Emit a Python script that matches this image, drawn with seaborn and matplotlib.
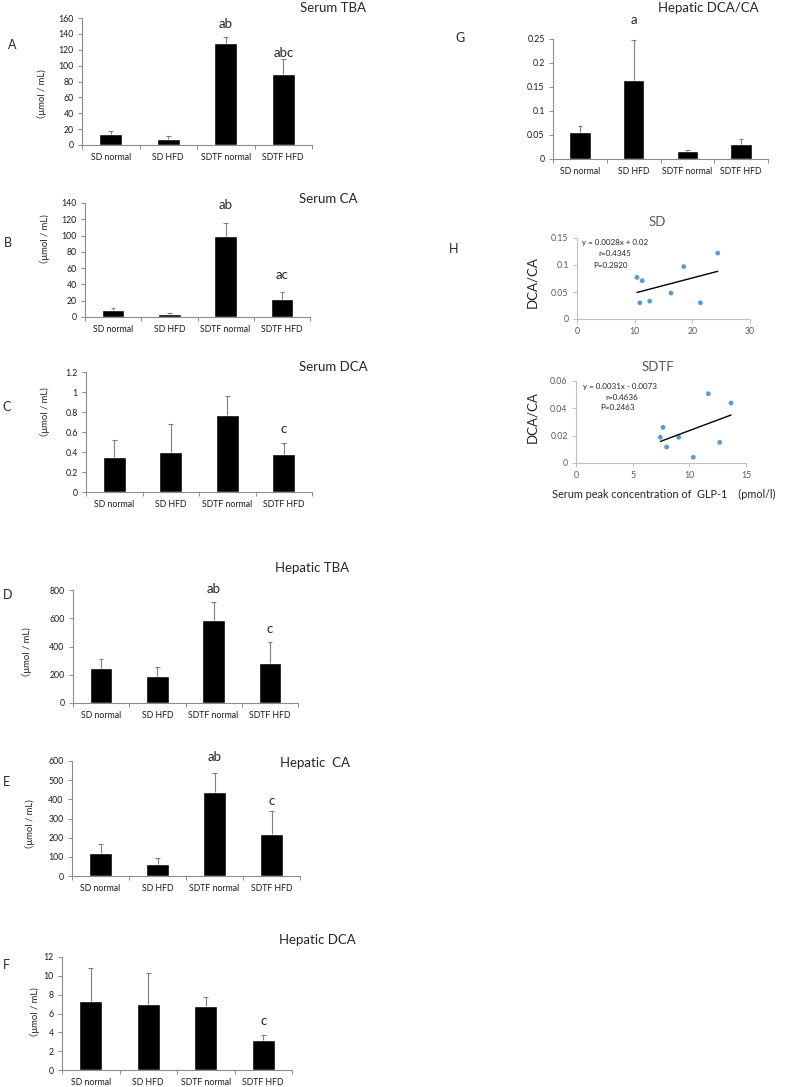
import matplotlib
matplotlib.use("Agg")
import numpy as np
import matplotlib.pyplot as plt
import seaborn as sns
from matplotlib.ticker import FixedLocator, FixedFormatter, NullFormatter, FuncFormatter

sns.set_style("white")
plt.rcParams["font.family"] = ["Lato", "Noto Sans CJK JP", "DejaVu Sans"]

groups = ["SD normal", "SD HFD", "SDTF normal", "SDTF HFD"]

# bar panels: mean and upper error (SEM)
serum_tba = [14, 7.5, 129, 90]
serum_tba_err = [4, 3.5, 7, 18]
serum_ca = [8, 3.5, 100, 22]
serum_ca_err = [3, 1.5, 16, 9]
serum_dca = [0.35, 0.40, 0.77, 0.38]
serum_dca_err = [0.17, 0.28, 0.19, 0.11]
hep_tba = [250, 190, 590, 285]
hep_tba_err = [65, 68, 122, 150]
hep_ca = [122, 65, 440, 217]
hep_ca_err = [43, 27, 98, 121]
hep_dca = [7.3, 7.05, 6.75, 3.15]
hep_dca_err = [3.5, 3.3, 0.95, 0.6]
hep_ratio = [0.057, 0.164, 0.016, 0.031]
hep_ratio_err = [0.011, 0.084, 0.002, 0.010]

# scatter panels (GLP-1 peak vs DCA/CA)
sd_glp1 = [10.4, 11.3, 10.9, 12.6, 16.3, 18.5, 21.4, 24.4]
sd_ratio = [0.077, 0.071, 0.030, 0.033, 0.048, 0.097, 0.030, 0.122]
sd_slope, sd_icpt = 0.0028, 0.02
sdtf_glp1 = [7.44, 7.68, 8.0, 9.06, 10.35, 11.68, 12.68, 13.68]
sdtf_ratio = [0.0188, 0.0261, 0.0117, 0.0188, 0.0042, 0.0507, 0.0151, 0.0439]
sdtf_slope, sdtf_icpt = 0.0031, -0.0073

W, H = 785, 1087
fig = plt.figure(figsize=(W / 100, H / 100), dpi=100)
fig.patch.set_facecolor("white")

SPINE = "#8c8c8c"
YLAB = "（μmol / mL)"
TITLE_FS = 9.5


def box(x0, x1, ybot, ytop):
    return fig.add_axes([x0 / W, 1 - ybot / H, (x1 - x0) / W, (ybot - ytop) / H])


def ftext(x, y, s, **kw):
    kw.setdefault("ha", "center")
    kw.setdefault("va", "center")
    fig.text(x / W, 1 - y / H, s, **kw)


def gfmt(v, _):
    return f"{v:g}"


def bar_panel(ax, vals, errs, ymax, step):
    sns.barplot(x=groups, y=vals, color="black", width=0.4, saturation=1,
                errorbar=None, ax=ax)
    xs = np.arange(len(vals))
    tops = np.array(vals) + np.array(errs)
    # plus-only error bars with a cap at the top
    ax.vlines(xs, vals, tops, color="#7f7f7f", lw=0.8)
    ax.hlines(tops, xs - 0.04, xs + 0.04, color="#7f7f7f", lw=0.8)
    ax.set_xlim(-0.5, 3.5)
    ax.set_ylim(0, ymax)
    ax.yaxis.set_major_locator(FixedLocator(np.arange(0, ymax + step / 2, step)))
    ax.yaxis.set_major_formatter(FuncFormatter(gfmt))
    ax.xaxis.set_major_locator(FixedLocator([-0.5, 0.5, 1.5, 2.5, 3.5]))
    ax.xaxis.set_major_formatter(NullFormatter())
    ax.xaxis.set_minor_locator(FixedLocator([0, 1, 2, 3]))
    ax.xaxis.set_minor_formatter(FixedFormatter(groups))
    ax.tick_params(axis="x", which="major", bottom=True, length=3, width=0.7,
                   color=SPINE, direction="out")
    ax.tick_params(axis="x", which="minor", bottom=True, length=0,
                   labelsize=6.3, pad=6, labelcolor="#1a1a1a")
    ax.tick_params(axis="y", left=True, length=3, width=0.7, color=SPINE,
                   labelsize=6.3, pad=3, labelcolor="#1a1a1a")
    for s in ["top", "right"]:
        ax.spines[s].set_visible(False)
    for s in ["left", "bottom"]:
        ax.spines[s].set_color(SPINE)
        ax.spines[s].set_linewidth(0.8)
    ax.set_xlabel("")
    ax.set_ylabel("")
    ax.patch.set_alpha(0)


def note(ax, x, y, s):
    ax.text(x, y, s, ha="center", va="center", fontsize=9.5, clip_on=False)


# A
ax = box(82, 312, 145, 18)
bar_panel(ax, serum_tba, serum_tba_err, 160, 20)
note(ax, 2, 152, "ab")
note(ax, 3, 116, "abc")
ftext(333, 8, "Serum TBA", fontsize=TITLE_FS)
ftext(12, 45, "A", fontsize=9)
ftext(42, 97, YLAB, fontsize=6.8, rotation=90)

# B
ax = box(85, 310, 317, 203)
bar_panel(ax, serum_ca, serum_ca_err, 140, 20)
note(ax, 2, 137, "ab")
note(ax, 3, 52, "ac")
ftext(328, 199, "Serum CA", fontsize=TITLE_FS)
ftext(8, 243, "B", fontsize=9)
ftext(45, 242, YLAB, fontsize=6.8, rotation=90)

# C
ax = box(86, 312, 492, 372)
bar_panel(ax, serum_dca, serum_dca_err, 1.2, 0.2)
note(ax, 3, 0.63, "c")
ftext(333, 367, "Serum DCA", fontsize=TITLE_FS)
ftext(7, 407, "C", fontsize=9)
ftext(45, 415, YLAB, fontsize=6.8, rotation=90)

# D
ax = box(73, 298, 703, 590)
bar_panel(ax, hep_tba, hep_tba_err, 800, 200)
note(ax, 2, 807, "ab")
note(ax, 3, 524, "c")
ftext(312, 568, "Hepatic TBA", fontsize=TITLE_FS)
ftext(8, 595, "D", fontsize=9)
ftext(27, 655, YLAB, fontsize=6.8, rotation=90)

# E
ax = box(72, 300, 876, 761)
bar_panel(ax, hep_ca, hep_ca_err, 600, 100)
note(ax, 2, 621, "ab")
note(ax, 3, 390, "c")
ftext(315, 763, "Hepatic  CA", fontsize=TITLE_FS)
ftext(6, 782, "E", fontsize=9)
ftext(30, 827, YLAB, fontsize=6.8, rotation=90)

# F
ax = box(62, 292, 1070, 957)
bar_panel(ax, hep_dca, hep_dca_err, 12, 2)
note(ax, 3, 5.2, "c")
ftext(317, 940, "Hepatic DCA", fontsize=TITLE_FS)
ftext(6, 965, "F", fontsize=9)
ftext(35, 1015, YLAB, fontsize=6.8, rotation=90)

# G
ax = box(553, 768, 159, 39)
bar_panel(ax, hep_ratio, hep_ratio_err, 0.25, 0.05)
note(ax, 1, 0.29, "a")
ftext(708, 8, "Hepatic DCA/CA", fontsize=TITLE_FS)
ftext(460, 38, "G", fontsize=9)


# H scatter panels
def scatter_panel(ax, xs, ys, slope, icpt, xmax, xstep, ymax, ystep):
    sns.scatterplot(x=xs, y=ys, color="#5B9BD5", s=12, edgecolor="none", ax=ax)
    lx = np.array([min(xs), max(xs)])
    ax.plot(lx, slope * lx + icpt, color="black", lw=1)
    ax.set_xlim(0, xmax)
    ax.set_ylim(0, ymax)
    ax.xaxis.set_major_locator(FixedLocator(np.arange(0, xmax + xstep / 2, xstep)))
    ax.yaxis.set_major_locator(FixedLocator(np.arange(0, ymax + ystep / 2, ystep)))
    ax.xaxis.set_major_formatter(FuncFormatter(gfmt))
    ax.yaxis.set_major_formatter(FuncFormatter(gfmt))
    ax.tick_params(axis="both", bottom=True, left=True, length=3, width=0.7,
                   color="#bfbfbf", labelsize=6.3, labelcolor="#595959", pad=3)
    for s in ["top", "right"]:
        ax.spines[s].set_visible(False)
    for s in ["left", "bottom"]:
        ax.spines[s].set_color("#bfbfbf")
        ax.spines[s].set_linewidth(0.8)
    ax.set_xlabel("")
    ax.set_ylabel("")
    ax.patch.set_alpha(0)


ax = box(577, 750, 319, 238)
scatter_panel(ax, sd_glp1, sd_ratio, sd_slope, sd_icpt, 30, 10, 0.15, 0.05)
ftext(657, 222, "SD", fontsize=TITLE_FS, color="#595959")
ftext(454, 249, "H", fontsize=9)
ftext(532, 282, "DCA/CA", fontsize=9.5, rotation=90)
ftext(582, 243, f"y = {sd_slope}x + {sd_icpt}", fontsize=5.8, ha="left", color="#262626")
ftext(598, 254, "r=0.4345", fontsize=5.8, ha="left", color="#262626")
ftext(593, 265, "P=0.2820", fontsize=5.8, ha="left", color="#262626")

ax = box(576, 746, 463, 381)
scatter_panel(ax, sdtf_glp1, sdtf_ratio, sdtf_slope, sdtf_icpt, 15, 5, 0.06, 0.02)
ftext(658, 367, "SDTF", fontsize=TITLE_FS, color="#595959")
ftext(532, 417, "DCA/CA", fontsize=9.5, rotation=90)
ftext(583, 386, f"y = {sdtf_slope}x - {abs(sdtf_icpt)}", fontsize=5.8, ha="left", color="#262626")
ftext(605, 397, "r=0.4636", fontsize=5.8, ha="left", color="#262626")
ftext(600, 408, "P=0.2463", fontsize=5.8, ha="left", color="#262626")
ftext(664, 494, "Serum peak concentration of  GLP-1    (pmol/l)", fontsize=7.8)

fig.savefig("out.png", dpi=100, facecolor="white")
